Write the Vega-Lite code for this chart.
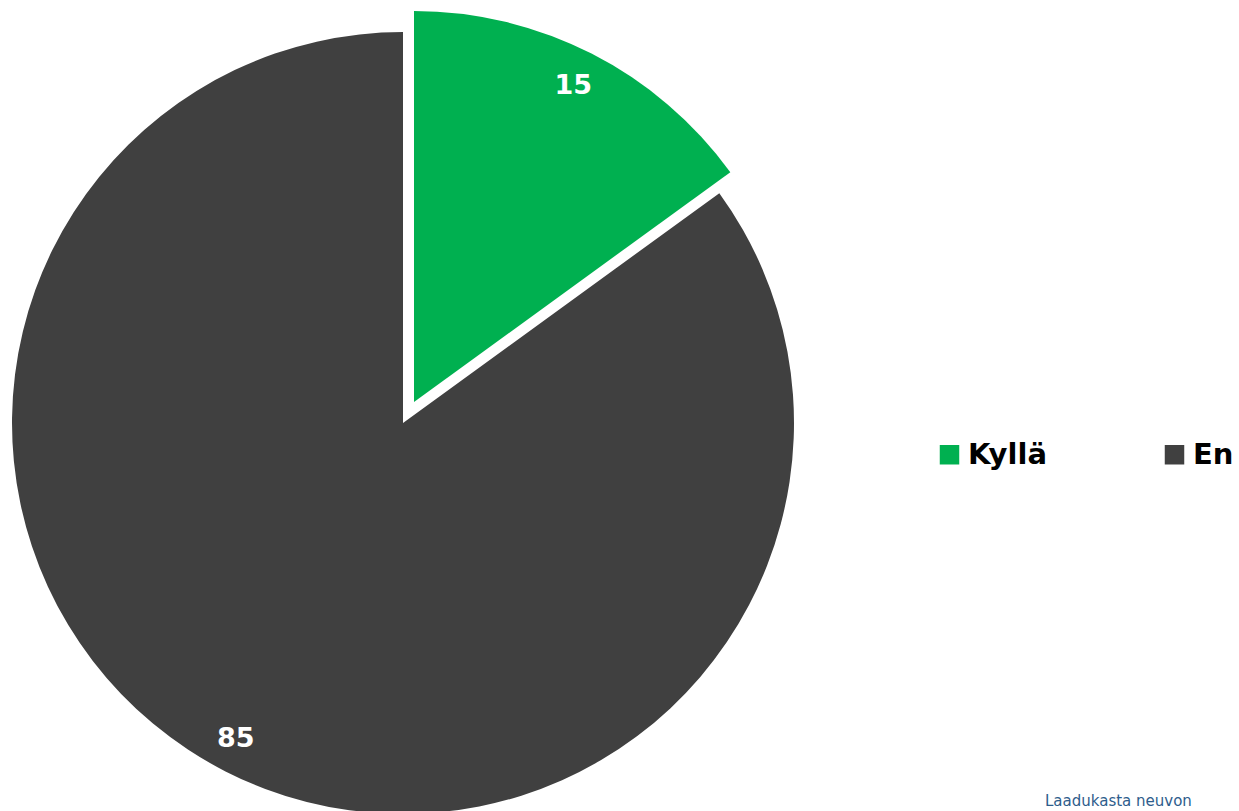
{
  "$schema": "https://vega.github.io/schema/vega-lite/v6.json",
  "width": 806,
  "height": 846,
  "padding": 0,
  "autosize": {"type": "pad"},
  "background": "white",
  "view": {"stroke": null},
  "title": {
    "text": "Laadukasta neuvon",
    "orient": "bottom",
    "anchor": "start",
    "frame": "group",
    "dx": 1045,
    "offset": -52,
    "font": "DejaVu Sans",
    "fontSize": 15,
    "fontWeight": "normal",
    "color": "#2e5d8c"
  },
  "data": {
    "values": [
      {"vastaus": "Kyllä", "osuus": 15, "jarjestys": 1},
      {"vastaus": "En", "osuus": 85, "jarjestys": 2}
    ]
  },
  "encoding": {
    "theta": {"field": "osuus", "type": "quantitative", "stack": true},
    "order": {"field": "jarjestys", "type": "quantitative"}
  },
  "layer": [
    {
      "mark": {"type": "arc", "outerRadius": 391},
      "encoding": {
        "color": {
          "field": "vastaus",
          "type": "nominal",
          "scale": {"domain": ["Kyllä", "En"], "range": ["#00B050", "#404040"]},
          "legend": {
            "orient": "none",
            "legendX": 935,
            "legendY": 440,
            "direction": "horizontal",
            "title": null,
            "labelFont": "DejaVu Sans",
            "labelFontWeight": "bold",
            "labelFontSize": 29,
            "labelColor": "#000000",
            "labelOffset": 4,
            "labelLimit": 300,
            "symbolType": "square",
            "symbolSize": 380,
            "symbolStrokeWidth": 0,
            "symbolOpacity": 1,
            "columnPadding": 113
          }
        },
        "opacity": {"condition": {"test": "datum.vastaus === 'En'", "value": 1}, "value": 0}
      }
    },
    {
      "mark": {"type": "arc", "outerRadius": 391, "xOffset": 11, "yOffset": -21},
      "encoding": {
        "color": {"field": "vastaus", "type": "nominal"},
        "opacity": {"condition": {"test": "datum.vastaus === 'Kyllä'", "value": 1}, "value": 0}
      }
    },
    {
      "mark": {"type": "text", "radius": 355, "font": "DejaVu Sans", "fontWeight": "bold", "fontSize": 27, "fill": "white", "align": "center", "baseline": "middle", "xOffset": -6},
      "encoding": {
        "text": {"field": "osuus", "type": "quantitative"},
        "opacity": {"condition": {"test": "datum.vastaus === 'En'", "value": 1}, "value": 0}
      }
    },
    {
      "mark": {"type": "text", "radius": 355, "xOffset": 9, "yOffset": -21, "font": "DejaVu Sans", "fontWeight": "bold", "fontSize": 27, "fill": "white", "align": "center", "baseline": "middle"},
      "encoding": {
        "text": {"field": "osuus", "type": "quantitative"},
        "opacity": {"condition": {"test": "datum.vastaus === 'Kyllä'", "value": 1}, "value": 0}
      }
    }
  ]
}
